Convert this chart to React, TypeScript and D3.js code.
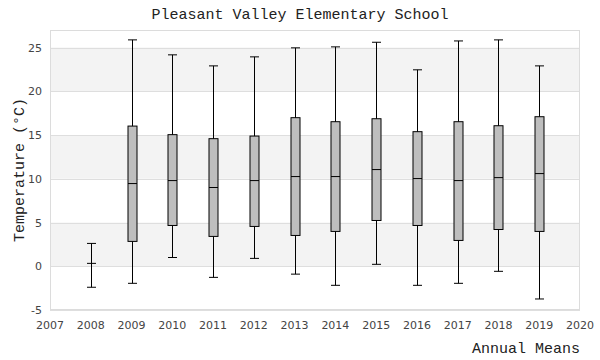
import React from "react";
import * as d3 from "d3";

const years = [2008, 2009, 2010, 2011, 2012, 2013, 2014, 2015, 2016, 2017, 2018, 2019];
const whiskerLow = [-2.4, -1.95, 1.0, -1.27, 0.9, -0.9, -2.18, 0.22, -2.18, -1.95, -0.58, -3.74];
const q1 = [0.33, 2.84, 4.66, 3.41, 4.55, 3.52, 3.98, 5.23, 4.66, 2.95, 4.2, 3.98];
const median = [0.33, 9.45, 9.79, 9.0, 9.79, 10.25, 10.25, 11.05, 10.02, 9.79, 10.13, 10.59];
const q3 = [0.33, 16.02, 15.04, 14.58, 14.88, 16.98, 16.52, 16.86, 15.38, 16.52, 16.06, 17.09];
const whiskerHigh = [2.61, 25.87, 24.16, 22.9, 23.93, 24.96, 25.07, 25.6, 22.45, 25.75, 25.87, 22.9];
const yTicks = [-5, 0, 5, 10, 15, 20, 25];
const xTicks = [2007, 2008, 2009, 2010, 2011, 2012, 2013, 2014, 2015, 2016, 2017, 2018, 2019, 2020];

const W = 600, H = 360;
const m = { left: 50, right: 20, top: 30, bottom: 50 };

export default function App() {
  const x = d3.scaleLinear().domain([2007, 2020]).range([m.left, W - m.right]);
  const y = d3.scaleLinear().domain([-5, 27]).range([H - m.bottom, m.top]);
  const bw = 9;
  const mono = "'Liberation Mono', 'DejaVu Sans Mono', monospace";
  const sans = "'DejaVu Sans', Verdana, sans-serif";
  const bands: [number, number][] = [[0, 5], [10, 15], [20, 25]];
  return (
    <svg width={W} height={H} style={{ position: "absolute", left: 0, top: 0, background: "#fff" }}>
      <text x={W / 2} y={19} textAnchor="middle" fontFamily={mono} fontSize={15} fill="#222">
        Pleasant Valley Elementary School
      </text>
      {bands.map(([a, b], i) => (
        <rect key={"b" + i} x={m.left} width={W - m.right - m.left} y={y(b)} height={y(a) - y(b)} fill="#f3f3f3" />
      ))}
      {yTicks.map((t) => (
        <g key={"y" + t}>
          <line x1={m.left} x2={W - m.right} y1={Math.round(y(t)) + 0.5} y2={Math.round(y(t)) + 0.5} stroke="#dedede" />
          <text x={42} y={y(t) + 4} textAnchor="end" fontFamily={sans} fontSize={11} fill="#444">{t}</text>
        </g>
      ))}
      <rect x={m.left + 0.5} y={m.top + 0.5} width={W - m.right - m.left - 1} height={H - m.bottom - m.top - 1} fill="none" stroke="#dcdcdc" />
      {xTicks.map((t) => (
        <text key={"x" + t} x={x(t)} y={329} textAnchor="middle" fontFamily={sans} fontSize={11} fill="#444">{t}</text>
      ))}
      {years.map((yr, i) => {
        const cx = Math.round(x(yr)) + 0.5;
        return (
          <g key={"bx" + yr} stroke="#000" strokeWidth={1}>
            <line x1={cx} x2={cx} y1={y(whiskerLow[i])} y2={y(whiskerHigh[i])} />
            <line x1={cx - bw / 2} x2={cx + bw / 2} y1={y(whiskerLow[i])} y2={y(whiskerLow[i])} />
            <line x1={cx - bw / 2} x2={cx + bw / 2} y1={y(whiskerHigh[i])} y2={y(whiskerHigh[i])} />
            <rect x={cx - bw / 2} width={bw} y={y(q3[i])} height={y(q1[i]) - y(q3[i])} fill="#bebebe" />
            <line x1={cx - bw / 2} x2={cx + bw / 2} y1={y(median[i])} y2={y(median[i])} />
          </g>
        );
      })}
      <text transform={`translate(24,${(m.top + H - m.bottom) / 2}) rotate(-90)`} textAnchor="middle" fontFamily={mono} fontSize={15} fill="#222">
        Temperature (°C)
      </text>
      <text x={W - m.right} y={353} textAnchor="end" fontFamily={mono} fontSize={15} fill="#222">
        Annual Means
      </text>
    </svg>
  );
}
